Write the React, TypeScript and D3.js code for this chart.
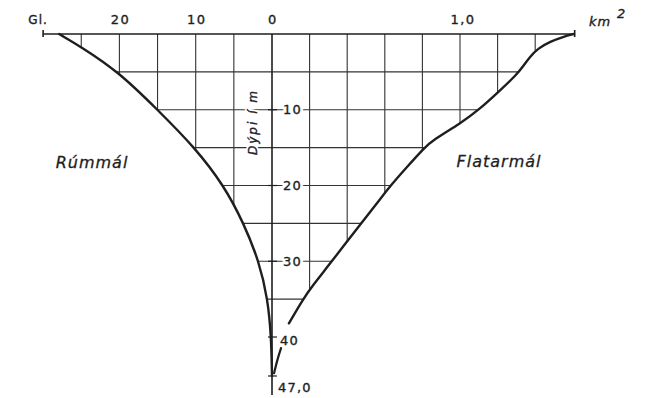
import React from 'react';
import * as d3 from 'd3';

// ---- data ----
const depthTicks = [10, 20, 30, 40, 47];
const depthTickLabels = ['10', '20', '30', '40', '47,0'];
const depthGrid = [5, 10, 15, 20, 25, 30, 35];
const volumeTicks = [20, 10, 0];
const volumeTickLabels = ['20', '10', '0'];
const volumeGrid = [5, 10, 15, 20, 25];
const areaTicks = [1.0];
const areaTickLabels = ['1,0'];
const areaGrid = [0.2, 0.4, 0.6, 0.8, 1.0, 1.2, 1.4];

// Rúmmál (Gl) vs depth (m)
const volumeDepths = [0, 1.7, 5, 10, 15, 20, 25, 30, 35, 40, 47];
const volumeValues = [27.9, 25.0, 20.1, 15.0, 10.1, 6.3, 3.7, 1.7, 0.55, 0.1, 0];

// Flatarmál (km²) vs depth (m) — drawn in two pieces around the "40" label
const areaDepthsUpper = [0, 0.36, 1.0, 1.9, 3.0, 4.3, 5.4, 7.4, 10, 11.75, 14, 15.05, 17.56, 20.07, 22.6, 25, 30, 33.3, 35, 38.2];
const areaValuesUpper = [1.606, 1.55, 1.48, 1.415, 1.372, 1.335, 1.3, 1.215, 1.101, 1.005, 0.856, 0.809, 0.718, 0.628, 0.551, 0.473, 0.319, 0.213, 0.165, 0.09];
const areaDepthsLower = [42.0, 44.1, 46.5];
const areaValuesLower = [0.048, 0.028, 0.011];

const maxDepth = 47;
const volumeAxisMax = 30;
const areaAxisMax = 1.61;

const W = 646;
const H = 398;
const FONT = '"DejaVu Sans", Verdana, sans-serif';
const INK = '#1e1e1e';

export default function App() {
  const y = d3.scaleLinear().domain([0, 40, maxDepth]).range([34, 337, 376]);
  const xV = d3.scaleLinear().domain([0, 10]).range([272, 195.7]);
  const xA = d3.scaleLinear().domain([0, 1]).range([272, 460]);

  const volPts: [number, number][] = volumeDepths.map((d, i) => [xV(volumeValues[i]), y(d)]);
  const areaUpPts: [number, number][] = areaDepthsUpper.map((d, i) => [xA(areaValuesUpper[i]), y(d)]);
  const areaLoPts: [number, number][] = areaDepthsLower.map((d, i) => [xA(areaValuesLower[i]), y(d)]);
  const areaAllPts: [number, number][] = [...areaUpPts, ...areaLoPts, [xA(0), y(maxDepth)]];

  const line = d3.line().curve(d3.curveBasis);
  const volPath = line(volPts) as string;
  const areaUpPath = line(areaUpPts) as string;
  const areaLoPath = line(areaLoPts) as string;
  const areaAllPath = line(areaAllPts) as string;

  const x0 = xV(0);
  const yTop = y(0);
  const clipVol = `${volPath}L${x0},${H}L${W},${H}L${W},0L${volPts[0][0]},0Z`;
  const clipArea = `${areaAllPath}L${x0},${H}L0,${H}L0,0L${areaUpPts[0][0]},0Z`;

  const xLeft = xV(volumeAxisMax);
  const xRight = xA(areaAxisMax);

  const depthLabelX = (d: number) => (d === 47 ? 278 : d === 40 ? 280 : 283);
  const depthLabelY = (d: number) => (d === 47 ? y(d) + 11 : d === 40 ? y(d) + 3 : y(d));

  return (
    <svg width={W} height={H} style={{ position: 'absolute', left: 0, top: 0, background: '#fff' }}>
      <defs>
        <clipPath id="clipVol"><path d={clipVol} /></clipPath>
        <clipPath id="clipArea"><path d={clipArea} /></clipPath>
      </defs>
      <rect x={0} y={0} width={W} height={H} fill="#fff" />

      {/* grid */}
      <g clipPath="url(#clipVol)">
        <g clipPath="url(#clipArea)" stroke="#333" strokeWidth={1.1} fill="none">
          {volumeGrid.map((v) => (
            <line key={'gv' + v} x1={xV(v)} x2={xV(v)} y1={yTop} y2={H} />
          ))}
          {areaGrid.map((a) => (
            <line key={'ga' + a} x1={xA(a)} x2={xA(a)} y1={yTop} y2={H} />
          ))}
          {depthGrid.map((d) => (
            <line key={'gd' + d} x1={0} x2={W} y1={y(d)} y2={y(d)} />
          ))}
        </g>
      </g>

      {/* top axis */}
      <line x1={xLeft} x2={xRight} y1={yTop} y2={yTop} stroke={INK} strokeWidth={1.6} />
      <line x1={xLeft} x2={xLeft} y1={yTop - 4} y2={yTop + 3} stroke={INK} strokeWidth={1.6} />
      <line x1={xRight} x2={xRight} y1={yTop - 4} y2={yTop + 3} stroke={INK} strokeWidth={1.6} />

      {/* depth axis */}
      <line x1={x0} x2={x0} y1={yTop} y2={395} stroke={INK} strokeWidth={1.6} />
      {depthTicks.map((d) => (
        <line key={'dt' + d} x1={x0 - 4} x2={x0 + 5} y1={y(d)} y2={y(d)} stroke={INK} strokeWidth={1.2} />
      ))}

      {/* curves */}
      <path d={volPath} fill="none" stroke={INK} strokeWidth={2.4} strokeLinecap="round" />
      <path d={areaUpPath} fill="none" stroke={INK} strokeWidth={2.4} strokeLinecap="round" />
      <path d={areaLoPath} fill="none" stroke={INK} strokeWidth={2.2} strokeLinecap="round" />

      {/* top labels */}
      <g fontFamily={FONT} fontSize={13} fill={INK} stroke={INK} strokeWidth={0.35} letterSpacing={1.5}>
        <text x={xLeft - 5} y={24} textAnchor="middle" fontSize={12} letterSpacing={1}>Gl.</text>
        {volumeTicks.map((v, i) => (
          <text key={'vt' + v} x={xV(v) + 1} y={24} textAnchor="middle">{volumeTickLabels[i]}</text>
        ))}
        {areaTicks.map((a, i) => (
          <text key={'at' + a} x={xA(a) + 3} y={24} textAnchor="middle">{areaTickLabels[i]}</text>
        ))}
        <text x={589} y={26} fontStyle="italic" letterSpacing={1}>km</text>
        <text x={617} y={18} fontStyle="italic">2</text>
      </g>

      {/* depth labels: white knock-out halo, then the text */}
      <g fontFamily={FONT} fontSize={13} letterSpacing={1.2} fill="#fff" stroke="#fff" strokeWidth={6} strokeLinejoin="round">
        {depthTicks.map((d, i) => (
          <text key={'dh' + d} x={depthLabelX(d)} y={depthLabelY(d)} dominantBaseline="central">
            {depthTickLabels[i]}
          </text>
        ))}
        <text x={0} y={0} transform={`translate(253,122) rotate(-90)`} textAnchor="middle"
          dominantBaseline="central" fontStyle="italic" fontSize={12} letterSpacing={2} strokeWidth={4}>
          Dýpi í m
        </text>
      </g>
      <g fontFamily={FONT} fontSize={13} letterSpacing={1.2} fill={INK} stroke={INK} strokeWidth={0.35}>
        {depthTicks.map((d, i) => (
          <text key={'dl' + d} x={depthLabelX(d)} y={depthLabelY(d)} dominantBaseline="central">
            {depthTickLabels[i]}
          </text>
        ))}
        <text x={0} y={0} transform={`translate(253,122) rotate(-90)`} textAnchor="middle"
          dominantBaseline="central" fontStyle="italic" fontSize={12} letterSpacing={2}>
          Dýpi í m
        </text>
      </g>

      {/* series names */}
      <g fontFamily={FONT} fontSize={16} fill={INK} stroke={INK} strokeWidth={0.3} fontStyle="italic" letterSpacing={1}>
        <text x={92} y={162} textAnchor="middle" dominantBaseline="central">Rúmmál</text>
        <text x={499} y={161} textAnchor="middle" dominantBaseline="central">Flatarmál</text>
      </g>
    </svg>
  );
}
